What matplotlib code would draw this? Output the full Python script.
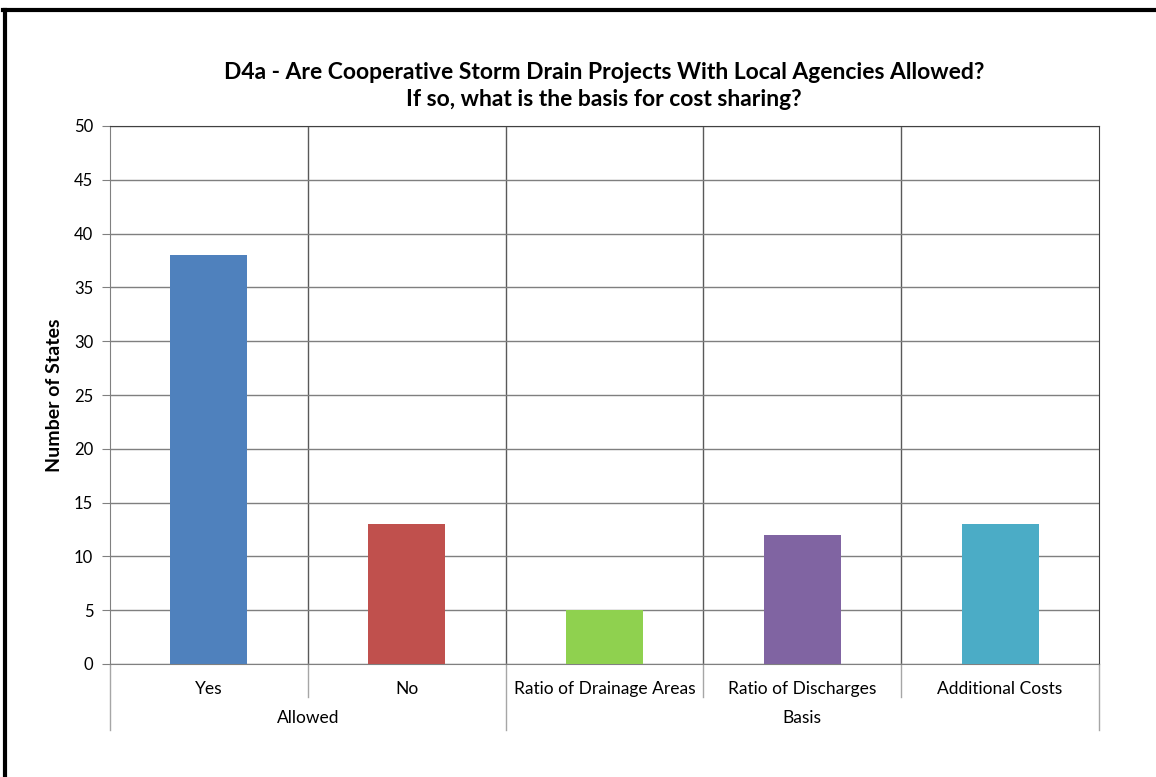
import matplotlib.pyplot as plt
from matplotlib.lines import Line2D
from matplotlib.transforms import blended_transform_factory

categories = ["Yes", "No", "Ratio of Drainage Areas", "Ratio of Discharges", "Additional Costs"]
groups = ["Allowed", "Basis"]
group_sizes = [2, 3]
values = [38, 13, 5, 12, 13]
colors = ["#4f81bd", "#c0504d", "#8fd14f", "#8064a2", "#4bacc6"]

plt.rcParams["font.family"] = ["Lato", "DejaVu Sans"]

fig = plt.figure(figsize=(11.56, 7.77), dpi=100)
ax = fig.add_axes([110 / 1156, 1 - 664 / 777, 989 / 1156, 538 / 777])

x = [i + 0.5 for i in range(len(categories))]
ax.bar(x, values, width=0.39, color=colors, zorder=3)

ax.set_xlim(0, len(categories))
ax.set_ylim(0, 50)
ax.set_yticks(range(0, 51, 5))
ax.tick_params(axis="y", length=6, color="#808080", labelsize=12, pad=6)
ax.yaxis.grid(True, color="#7f7f7f", linewidth=1.0, zorder=0)
for i in range(1, len(categories)):
    ax.axvline(i, color="#595959", linewidth=1.0, zorder=1)
for side in ["left", "bottom"]:
    ax.spines[side].set_color("#808080")
for side in ["top", "right"]:
    ax.spines[side].set_color("#404040")

ax.set_xticks(x)
ax.set_xticklabels(categories, fontsize=12.5)
ax.tick_params(axis="x", length=0, pad=12)

ax.set_ylabel("Number of States", fontsize=14, fontweight="bold", labelpad=8)

# category / group separators below the axis
trans = blended_transform_factory(ax.transData, ax.transAxes)
bounds = [0]
for n in group_sizes:
    bounds.append(bounds[-1] + n)
for i in range(len(categories) + 1):
    depth = -0.1227 if i in bounds else -0.0613
    ax.add_line(Line2D([i, i], [0, depth], transform=trans, color="#a6a6a6",
                       linewidth=1.0, clip_on=False))
for g, a, b in zip(groups, bounds[:-1], bounds[1:]):
    ax.text((a + b) / 2, -0.101, g, transform=trans, ha="center", va="center", fontsize=12.5)

fig.text(604 / 1156, 1 - 86 / 777,
         "D4a - Are Cooperative Storm Drain Projects With Local Agencies Allowed?\n"
         "If so, what is the basis for cost sharing?",
         ha="center", va="center", fontsize=16.5, fontweight="bold", linespacing=1.36)

# black frame on top and left edges
fig.add_artist(Line2D([3 / 1156, 1], [1 - 10 / 777, 1 - 10 / 777], color="black", linewidth=3))
fig.add_artist(Line2D([5 / 1156, 5 / 1156], [0, 1 - 10 / 777], color="black", linewidth=3))

fig.savefig("out.png", dpi=100)
